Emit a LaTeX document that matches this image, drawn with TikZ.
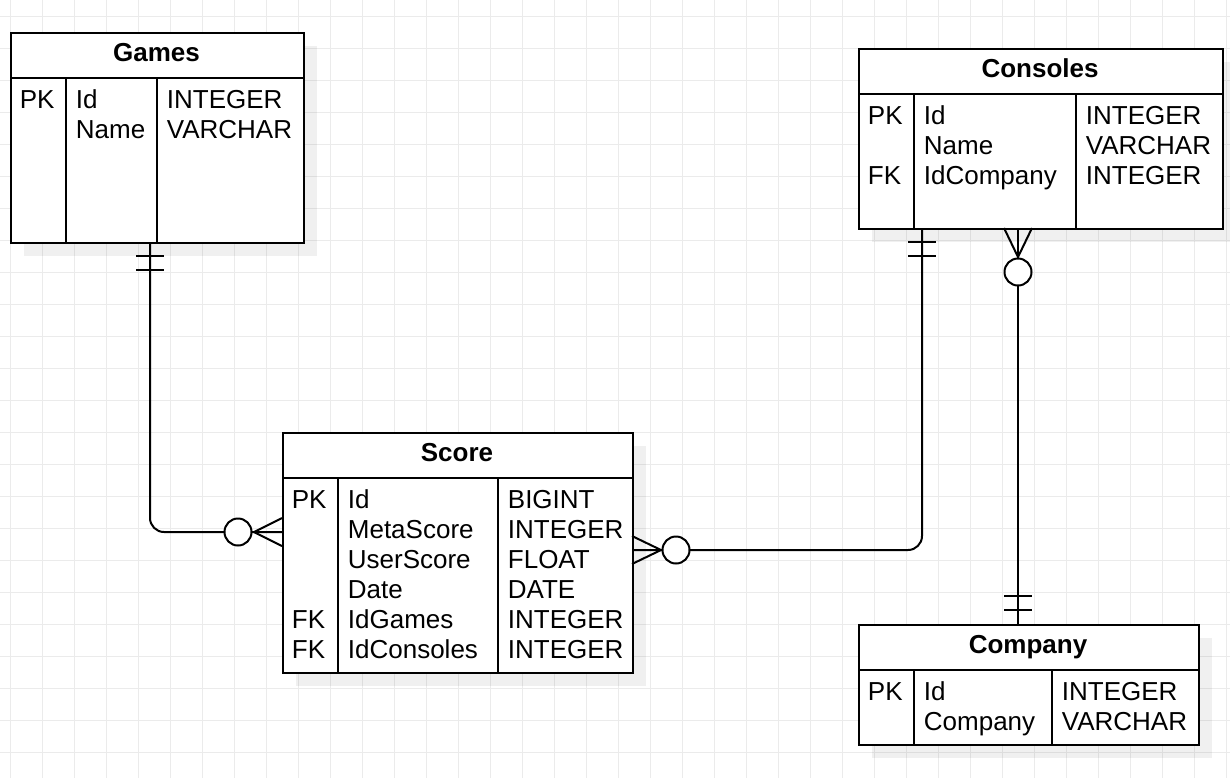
\documentclass[tikz,border=0pt]{standalone}
\usepackage{fontspec}
\setmainfont{Liberation Sans}
\definecolor{gridgray}{HTML}{EBEBEB}
\begin{document}
\begin{tikzpicture}[x=0.5pt,y=-0.5pt,
  font=\fontsize{13pt}{15pt}\selectfont,
  every node/.style={inner sep=0pt},
  tbl/.style={draw, line width=1pt, fill=white, anchor=north west},
  shd/.style={fill=black, opacity=0.06},
  tline/.style={line width=1pt},
  ttl/.style={anchor=base, font=\fontsize{13pt}{15pt}\selectfont\bfseries},
  cell/.style={anchor=base west},
  rel/.style={line width=1pt},
  zero/.style={circle, draw, line width=1pt, fill=white, minimum size=13.5pt}]
\useasboundingbox (0,0) rectangle (1230,778);
\fill[white] (0,0) rectangle (1230,778);
\foreach \gx in {10.7,42.7,...,1230} \draw[gridgray, line width=0.5pt] (\gx,0) -- (\gx,778);
\foreach \gy in {16,48,...,778} \draw[gridgray, line width=0.5pt] (0,\gy) -- (1230,\gy);

\fill[shd] (24,46) rectangle (317,256);
\node[tbl, minimum width=146.5pt, minimum height=105pt] (games) at (10,32) {};
\node[ttl] (games-t) at (156.5,61) {Games};
\draw[tline] (10,78) -- (303,78) (66,78) -- (66,242) (157,78) -- (157,242);
\foreach \i/\k/\f/\d in {0/PK/Id/INTEGER,1//Name/VARCHAR} {
  \node[cell] (games-k\i) at (19.5,108.5+30*\i) {\k};
  \node[cell] (games-f\i) at (75.5,108.5+30*\i) {\f};
  \node[cell] (games-d\i) at (166.5,108.5+30*\i) {\d};
}

\fill[shd] (872,62) rectangle (1236,242);
\node[tbl, minimum width=182pt, minimum height=90pt] (consoles) at (858,48) {};
\node[ttl] (consoles-t) at (1040,77) {Consoles};
\draw[tline] (858,94) -- (1222,94) (914,94) -- (914,228) (1076,94) -- (1076,228);
\foreach \i/\k/\f/\d in {0/PK/Id/INTEGER,1//Name/VARCHAR,2/FK/IdCompany/INTEGER} {
  \node[cell] (consoles-k\i) at (867.5,124.5+30*\i) {\k};
  \node[cell] (consoles-f\i) at (923.5,124.5+30*\i) {\f};
  \node[cell] (consoles-d\i) at (1085.5,124.5+30*\i) {\d};
}

\fill[shd] (296,446) rectangle (646,686);
\node[tbl, minimum width=175pt, minimum height=120pt] (score) at (282,432) {};
\node[ttl] (score-t) at (457,461) {Score};
\draw[tline] (282,478) -- (632,478) (338,478) -- (338,672) (498,478) -- (498,672);
\foreach \i/\k/\f/\d in {0/PK/Id/BIGINT,1//MetaScore/INTEGER,2//UserScore/FLOAT,3//Date/DATE,4/FK/IdGames/INTEGER,5/FK/IdConsoles/INTEGER} {
  \node[cell] (score-k\i) at (291.5,508.5+30*\i) {\k};
  \node[cell] (score-f\i) at (347.5,508.5+30*\i) {\f};
  \node[cell] (score-d\i) at (507.5,508.5+30*\i) {\d};
}

\fill[shd] (872,638) rectangle (1212,758);
\node[tbl, minimum width=170pt, minimum height=60pt] (company) at (858,624) {};
\node[ttl] (company-t) at (1028,653) {Company};
\draw[tline] (858,670) -- (1198,670) (914,670) -- (914,744) (1052,670) -- (1052,744);
\foreach \i/\k/\f/\d in {0/PK/Id/INTEGER,1//Company/VARCHAR} {
  \node[cell] (company-k\i) at (867.5,700.5+30*\i) {\k};
  \node[cell] (company-f\i) at (923.5,700.5+30*\i) {\f};
  \node[cell] (company-d\i) at (1061.5,700.5+30*\i) {\d};
}

\coordinate (games-s) at (150,242);
\coordinate (score-w) at (282,532);
\coordinate (score-e) at (632,550);
\coordinate (consoles-s1) at (922,228);
\coordinate (consoles-s2) at (1018,228);
\coordinate (company-n) at (1018,624);

\draw[rel, rounded corners=7pt] (games-s) |- (score-w);
\draw[rel] (games-s) ++(-14,14) -- ++(28,0);
\draw[rel] (games-s) ++(-14,28) -- ++(28,0);
\draw[rel] (score-w) ++(0,-14) -- ++(-28,14) -- ++(28,14);
\path (score-w) ++(-44,0) node[zero] (games-score-o) {};

\draw[rel, rounded corners=7pt] (score-e) -| (consoles-s1);
\draw[rel] (consoles-s1) ++(-14,14) -- ++(28,0);
\draw[rel] (consoles-s1) ++(-14,28) -- ++(28,0);
\draw[rel] (score-e) ++(0,-14) -- ++(29,14) -- ++(-29,14);
\path (score-e) ++(44,0) node[zero] (score-consoles-o) {};

\draw[rel] (consoles-s2) -- (company-n);
\draw[rel] (consoles-s2) ++(-14,0) -- ++(14,29) -- ++(14,-29);
\path (consoles-s2) ++(0,44) node[zero] (consoles-company-o) {};
\draw[rel] (company-n) ++(-14,-28) -- ++(28,0);
\draw[rel] (company-n) ++(-14,-14) -- ++(28,0);
\end{tikzpicture}
\end{document}
